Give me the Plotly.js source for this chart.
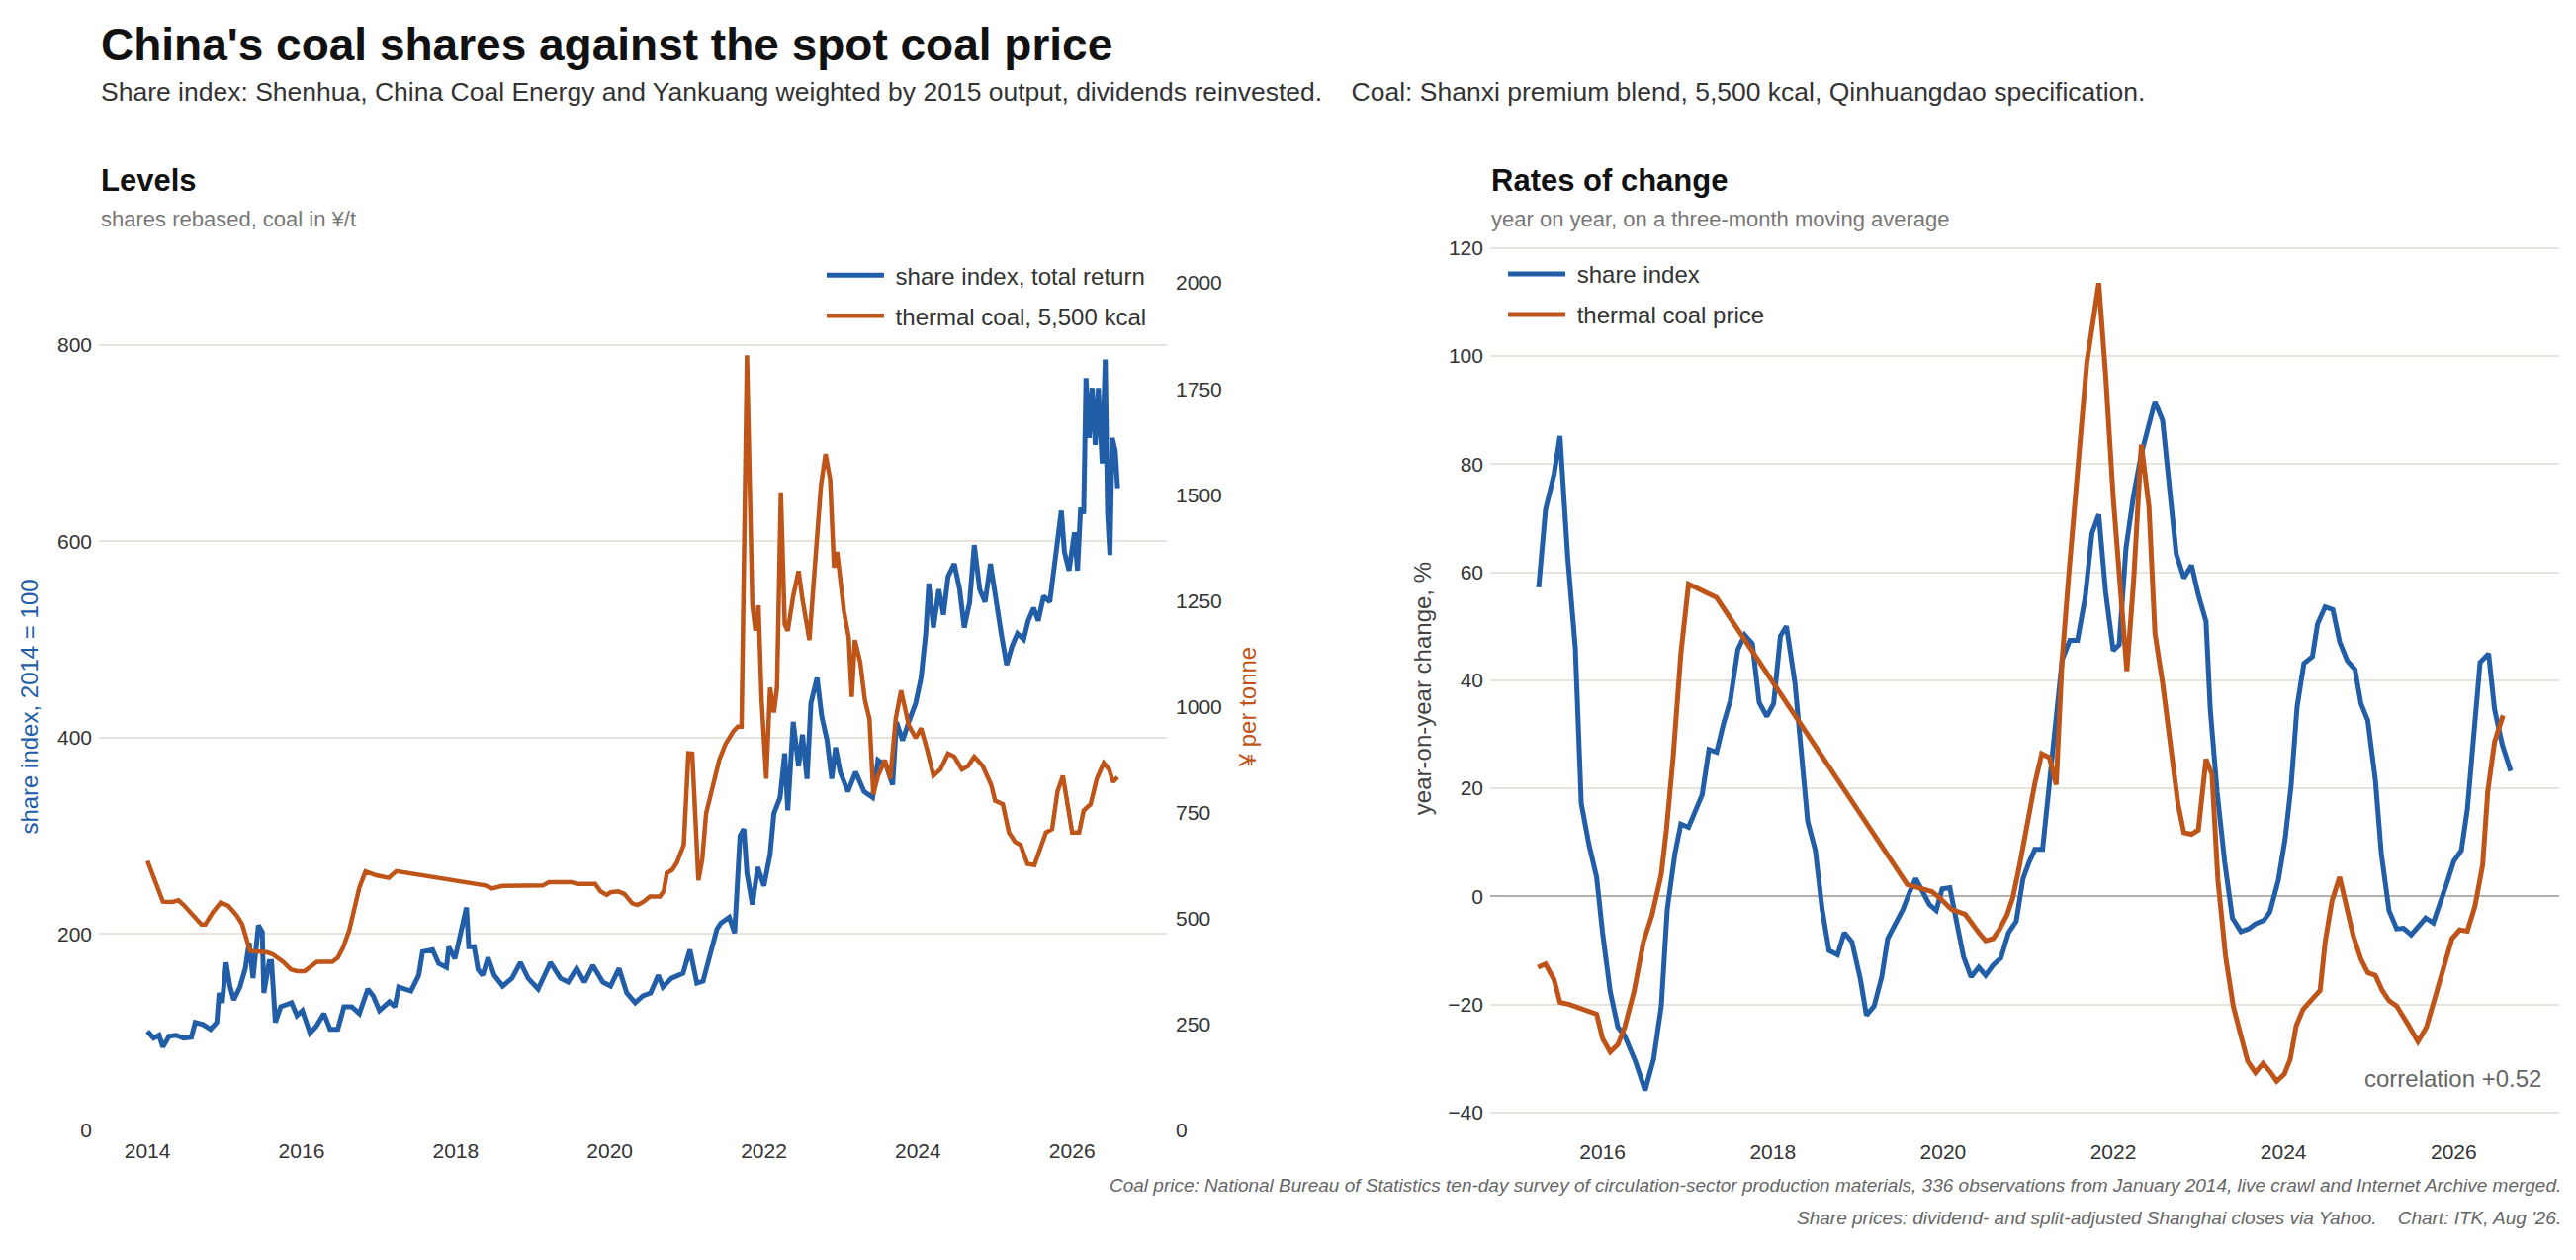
<!DOCTYPE html>
<html>
<head>
<meta charset="utf-8">
<script src="https://cdn.plot.ly/plotly-3.0.1.min.js"></script>
<style>
  html, body { margin: 0; padding: 0; background: #fff; }
  #chart { width: 2605px; height: 1274px; }
</style>
</head>
<body>
<div id="chart"></div>
<script>
// ---- data ----
var coalYears = [2014.0, 2014.2, 2014.32, 2014.40, 2014.47, 2014.70, 2014.75, 2014.85, 2014.95, 2015.05,
  2015.16, 2015.23, 2015.33, 2015.41, 2015.56, 2015.63, 2015.76, 2015.86, 2015.94, 2016.04,
  2016.12, 2016.20, 2016.40, 2016.47, 2016.54, 2016.62, 2016.75, 2016.83, 2016.97, 2017.13,
  2017.23, 2018.39, 2018.47, 2018.60, 2019.13, 2019.21, 2019.50, 2019.58, 2019.81, 2019.88,
  2019.96, 2020.01, 2020.11, 2020.19, 2020.29, 2020.36, 2020.44, 2020.52, 2020.65, 2020.70,
  2020.74, 2020.81, 2020.87, 2020.96, 2021.02, 2021.07, 2021.15, 2021.20, 2021.25, 2021.34,
  2021.42, 2021.50, 2021.60, 2021.66, 2021.71, 2021.78, 2021.85, 2021.89, 2021.93, 2021.97,
  2022.03, 2022.08, 2022.13, 2022.17, 2022.22, 2022.27, 2022.31, 2022.38, 2022.45, 2022.50,
  2022.59, 2022.66, 2022.74, 2022.80, 2022.86, 2022.91, 2022.95, 2023.04, 2023.10, 2023.14,
  2023.18, 2023.25, 2023.31, 2023.37, 2023.42, 2023.48, 2023.57, 2023.64, 2023.71, 2023.78,
  2023.88, 2023.97, 2024.04, 2024.12, 2024.20, 2024.29, 2024.39, 2024.47, 2024.57, 2024.65,
  2024.73, 2024.84, 2024.95, 2025.00, 2025.10, 2025.18, 2025.26, 2025.33, 2025.42, 2025.51,
  2025.58, 2025.66, 2025.74, 2025.81, 2025.88, 2025.93, 2026.00, 2026.09, 2026.15, 2026.24,
  2026.32, 2026.41, 2026.48, 2026.53, 2026.59];
var coalLevel = [636, 540, 539, 543, 532, 486, 486, 515, 538, 530,
  507, 486, 424, 422, 420, 415, 398, 380, 376, 376,
  386, 398, 398, 408, 432, 473, 573, 611, 602, 596,
  612, 578, 571, 577, 578, 586, 586, 582, 582, 564,
  556, 562, 564, 558, 536, 532, 540, 552, 552, 565,
  607, 615, 632, 674, 890, 889, 590, 640, 748, 815,
  874, 911, 941, 953, 953, 1829, 1239, 1179, 1239, 1016,
  830, 1045, 986, 1045, 1506, 1194, 1179, 1261, 1320, 1254,
  1157, 1328, 1521, 1596, 1536, 1328, 1365, 1224, 1164, 1023,
  1157, 1105, 1016, 971, 793, 837, 874, 830, 971, 1038,
  956, 926, 949, 897, 837, 852, 889, 882, 852, 860,
  882, 860, 815, 778, 770, 703, 681, 674, 629, 626,
  659, 703, 711, 800, 837, 778, 703, 703, 755, 770,
  830, 867, 852, 822, 834];

var shareYears = [2014.0, 2014.08, 2014.15, 2014.2, 2014.28, 2014.37, 2014.47, 2014.57, 2014.62, 2014.72,
  2014.82, 2014.90, 2014.93, 2014.97, 2015.02, 2015.07, 2015.12, 2015.2, 2015.27, 2015.32,
  2015.37, 2015.44, 2015.49, 2015.51, 2015.58, 2015.61, 2015.66, 2015.73, 2015.87, 2015.94,
  2016.01, 2016.11, 2016.19, 2016.29, 2016.37, 2016.47, 2016.55, 2016.65, 2016.75, 2016.86,
  2016.93, 2017.01, 2017.14, 2017.21, 2017.26, 2017.42, 2017.52, 2017.57, 2017.70, 2017.78,
  2017.88, 2017.91, 2017.99, 2018.06, 2018.14, 2018.17, 2018.24, 2018.29, 2018.35, 2018.42,
  2018.50, 2018.61, 2018.73, 2018.84, 2018.94, 2019.07, 2019.23, 2019.36, 2019.46, 2019.57,
  2019.67, 2019.78, 2019.91, 2020.01, 2020.12, 2020.22, 2020.33, 2020.43, 2020.53, 2020.63,
  2020.69, 2020.80, 2020.95, 2021.04, 2021.13, 2021.21, 2021.29, 2021.39, 2021.44, 2021.55,
  2021.62, 2021.69, 2021.74, 2021.78, 2021.85, 2021.92, 2022.00, 2022.08, 2022.13, 2022.21,
  2022.27, 2022.31, 2022.38, 2022.45, 2022.50, 2022.56, 2022.61, 2022.69, 2022.75, 2022.82,
  2022.88, 2022.93, 2022.99, 2023.09, 2023.19, 2023.30, 2023.41, 2023.48, 2023.59, 2023.67,
  2023.72, 2023.80, 2023.88, 2023.97, 2024.04, 2024.10, 2024.14, 2024.20, 2024.27, 2024.33,
  2024.39, 2024.47, 2024.54, 2024.60, 2024.67, 2024.73, 2024.80, 2024.87, 2024.94, 2025.02,
  2025.08, 2025.15, 2025.22, 2025.29, 2025.37, 2025.43, 2025.50, 2025.56, 2025.63, 2025.71,
  2025.77, 2025.81, 2025.86, 2025.90, 2025.96, 2026.03, 2026.07, 2026.11, 2026.15, 2026.18,
  2026.22, 2026.26, 2026.30, 2026.34, 2026.39, 2026.43, 2026.46, 2026.49, 2026.52, 2026.56,
  2026.59];
var shareLevel = [101, 94, 97, 85, 96, 97, 94, 95, 110, 108,
  103, 110, 140, 130, 171, 147, 133, 146, 165, 191,
  155, 209, 202, 140, 172, 172, 110, 126, 130, 117,
  122, 99, 106, 119, 103, 103, 126, 126, 119, 144,
  137, 122, 131, 126, 146, 142, 158, 182, 184, 170,
  166, 187, 175, 202, 227, 187, 187, 164, 158, 176,
  158, 147, 155, 171, 155, 144, 171, 155, 151, 165,
  151, 168, 151, 147, 165, 140, 130, 137, 140, 158,
  146, 155, 160, 184, 150, 152, 176, 205, 211, 217,
  201, 300, 307, 262, 230, 268, 249, 281, 323, 339,
  384, 326, 416, 371, 403, 358, 435, 461, 422, 397,
  358, 390, 365, 345, 365, 345, 339, 377, 371, 352,
  416, 397, 416, 435, 461, 506, 557, 512, 551, 525,
  564, 577, 551, 512, 538, 596, 551, 538, 577, 532,
  506, 474, 493, 506, 500, 519, 532, 519, 544, 538,
  577, 602, 631, 589, 570, 609, 570, 634, 628, 766,
  705, 756, 698, 756, 679, 785, 628, 586, 705, 692,
  654];

var yoyShareYears = [2015.25, 2015.33, 2015.43, 2015.50, 2015.59, 2015.68, 2015.75, 2015.84, 2015.93, 2016.0,
  2016.09, 2016.18, 2016.26, 2016.39, 2016.50, 2016.60, 2016.69, 2016.76, 2016.85, 2016.92,
  2017.01, 2017.09, 2017.17, 2017.25, 2017.34, 2017.42, 2017.50, 2017.59, 2017.67, 2017.76,
  2017.84, 2017.93, 2018.01, 2018.09, 2018.16, 2018.26, 2018.34, 2018.41, 2018.50, 2018.58,
  2018.66, 2018.76, 2018.84, 2018.93, 2019.03, 2019.10, 2019.19, 2019.28, 2019.35, 2019.44,
  2019.53, 2019.61, 2019.68, 2019.76, 2019.84, 2019.92, 2019.99, 2020.08, 2020.16, 2020.24,
  2020.33, 2020.42, 2020.50, 2020.59, 2020.68, 2020.77, 2020.86, 2020.94, 2021.01, 2021.08,
  2021.17, 2021.24, 2021.33, 2021.40, 2021.49, 2021.58, 2021.67, 2021.75, 2021.83, 2021.91,
  2022.0, 2022.07, 2022.15, 2022.24, 2022.33, 2022.41, 2022.49, 2022.58, 2022.65, 2022.74,
  2022.83, 2022.92, 2023.0, 2023.09, 2023.14, 2023.22, 2023.31, 2023.40, 2023.50, 2023.59,
  2023.67, 2023.77, 2023.84, 2023.94, 2024.02, 2024.09, 2024.16, 2024.24, 2024.34, 2024.40,
  2024.49, 2024.58, 2024.66, 2024.75, 2024.84, 2024.91, 2024.99, 2025.08, 2025.15, 2025.24,
  2025.33, 2025.41, 2025.50, 2025.58, 2025.67, 2025.76, 2025.84, 2025.92, 2026.0, 2026.09,
  2026.16, 2026.23, 2026.31, 2026.41, 2026.48, 2026.57, 2026.67];
var yoyShare = [57.2, 71.6, 78.1, 85.2, 62.9, 46.0, 17.2, 9.6, 3.6, -6.7,
  -17.6, -24.2, -25.8, -30.7, -35.9, -30.1, -20.3, -2.4, 7.9, 13.4,
  12.8, 16.1, 18.8, 27.2, 26.7, 31.9, 36.2, 45.7, 48.4, 46.8,
  35.9, 33.3, 35.7, 48.2, 50.0, 39.5, 24.8, 13.9, 8.5, -2.4,
  -10.0, -10.8, -6.7, -8.4, -15.4, -22.0, -20.3, -14.9, -7.8, -5.1,
  -2.4, 0.9, 3.3, 0.9, -1.5, -2.6, 1.4, 1.6, -4.6, -11.1,
  -14.9, -13.1, -14.6, -12.7, -11.4, -6.7, -4.6, 3.3, 6.3, 8.7,
  8.7, 19.4, 34.6, 43.8, 47.4, 47.4, 55.3, 67.2, 70.7, 56.4,
  45.5, 46.6, 64.5, 74.3, 81.9, 86.8, 91.6, 88.1, 78.1, 63.4,
  58.9, 61.3, 55.8, 50.9, 34.6, 19.4, 6.3, -4.0, -6.5, -6.0,
  -5.1, -4.4, -2.9, 3.0, 10.7, 20.5, 35.1, 43.1, 44.4, 50.4,
  53.6, 53.1, 47.1, 43.6, 42.0, 35.7, 32.6, 21.5, 7.9, -2.6,
  -6.0, -5.9, -7.1, -5.7, -4.0, -4.9, -1.5, 2.5, 6.5, 8.5,
  16.1, 29.2, 43.3, 44.9, 34.6, 28.1, 23.2];

var yoyCoalYears = [2015.24, 2015.33, 2015.43, 2015.50, 2015.61, 2015.75, 2015.93, 2016.0, 2016.09, 2016.18,
  2016.26, 2016.37, 2016.48, 2016.58, 2016.69, 2016.75, 2016.83, 2016.92, 2017.01, 2017.34,
  2019.58, 2019.87, 2019.97, 2020.10, 2020.26, 2020.42, 2020.50, 2020.59, 2020.66, 2020.75,
  2020.82, 2020.90, 2020.99, 2021.08, 2021.16, 2021.25, 2021.33, 2021.40, 2021.48, 2021.58,
  2021.69, 2021.83, 2021.91, 2022.0, 2022.09, 2022.16, 2022.24, 2022.33, 2022.42, 2022.49,
  2022.58, 2022.67, 2022.76, 2022.83, 2022.92, 2023.0, 2023.09, 2023.16, 2023.23, 2023.32,
  2023.41, 2023.49, 2023.58, 2023.67, 2023.76, 2023.85, 2023.92, 2024.01, 2024.08, 2024.15,
  2024.23, 2024.32, 2024.43, 2024.49, 2024.57, 2024.66, 2024.73, 2024.82, 2024.91, 2024.99,
  2025.08, 2025.16, 2025.24, 2025.33, 2025.46, 2025.58, 2025.68, 2025.80, 2025.91, 2025.98,
  2026.07, 2026.16, 2026.25, 2026.34, 2026.40, 2026.48, 2026.58];
var yoyCoal = [-13.1, -12.5, -15.4, -19.6, -20.0, -20.7, -21.8, -26.3, -28.8, -27.4,
  -24.2, -17.6, -8.4, -3.5, 4.1, 12.3, 25.9, 44.9, 57.8, 55.3,
  2.2, 0.9, -0.4, -2.4, -3.3, -6.7, -8.2, -7.8, -6.2, -3.5,
  -0.2, 5.8, 13.4, 21.0, 26.4, 25.7, 20.7, 44.0, 60.0, 78.7,
  98.8, 113.5, 96.6, 73.8, 54.2, 41.7, 58.5, 83.6, 72.1, 48.7,
  39.5, 28.1, 17.2, 11.8, 11.5, 12.3, 25.4, 22.6, 3.0, -11.1,
  -20.3, -25.2, -30.5, -32.6, -30.9, -32.6, -34.2, -32.9, -30.1, -23.9,
  -20.9, -19.3, -17.4, -8.4, -0.8, 3.6, -1.3, -7.3, -11.6, -14.1,
  -14.6, -17.4, -19.3, -20.3, -23.6, -26.9, -24.2, -17.6, -11.1, -7.8,
  -6.2, -6.4, -1.8, 5.8, 19.4, 28.6, 33.5];

var yearTicks = [2014, 2016, 2018, 2020, 2022, 2024, 2026];
var yearTicksRight = [2016, 2018, 2020, 2022, 2024, 2026];
var levelTicks = [0, 200, 400, 600, 800];
var coalTicks = [0, 250, 500, 750, 1000, 1250, 1500, 1750, 2000];
var correlation = "+0.52";

// ---- styling ----
var FONT = "Liberation Sans, Arial, sans-serif";
var BLUE = "#225ea8";
var ORANGE = "#bf5418";
var GRID = "#e7e4dc";
var TICK = { family: FONT, size: 21, color: "#333" };
var GAP = "\u00a0";

var traces = [
  { x: shareYears, y: shareLevel, xaxis: "x", yaxis: "y", type: "scatter", mode: "lines",
    name: GAP + "share index, total return", legend: "legend", legendgroup: "a",
    line: { color: BLUE, width: 5 } },
  { x: coalYears, y: coalLevel, xaxis: "x", yaxis: "y2", type: "scatter", mode: "lines",
    name: GAP + "thermal coal, 5,500 kcal", legend: "legend", legendgroup: "b",
    line: { color: ORANGE, width: 4.5 } },
  { x: yoyShareYears, y: yoyShare, xaxis: "x2", yaxis: "y3", type: "scatter", mode: "lines",
    name: GAP + "share index", legend: "legend2", legendgroup: "c",
    line: { color: BLUE, width: 5 } },
  { x: yoyCoalYears, y: yoyCoal, xaxis: "x2", yaxis: "y3", type: "scatter", mode: "lines",
    name: GAP + "thermal coal price", legend: "legend2", legendgroup: "d",
    line: { color: ORANGE, width: 5 } }
];

function note(text, x, y, size, opts) {
  var a = { text: text, x: x, y: y, xref: "paper", yref: "paper", showarrow: false,
    xanchor: "left", yanchor: "middle", font: { family: FONT, size: size, color: "#111" } };
  for (var k in opts) {
    if (k === "font") { for (var f in opts.font) a.font[f] = opts.font[f]; }
    else a[k] = opts[k];
  }
  return a;
}

var legendBase = {
  bgcolor: "rgba(0,0,0,0)", font: { family: FONT, size: 24, color: "#333" },
  traceorder: "grouped", tracegroupgap: 7, itemwidth: 58, yanchor: "top"
};

var layout = {
  width: 2605, height: 1274,
  margin: { l: 0, r: 0, t: 0, b: 0 },
  paper_bgcolor: "#fff", plot_bgcolor: "#fff",
  font: { family: FONT, size: 21, color: "#333" },
  showlegend: true,
  xaxis: { domain: [0.0384, 0.4530], range: [2013.37, 2027.23], tickvals: yearTicks,
    ticks: "", showgrid: false, zeroline: false, showline: false, tickfont: TICK,
    ticklabelstandoff: 6, anchor: "y" },
  yaxis: { domain: [0.1028, 0.7755], range: [0, 863], tickvals: levelTicks,
    ticks: "", gridcolor: GRID, gridwidth: 2, zeroline: false, showline: false,
    tickfont: TICK, ticklabelstandoff: 6, anchor: "x",
    title: { text: "share index, 2014 = 100", font: { family: FONT, size: 24, color: BLUE }, standoff: 12 } },
  yaxis2: { overlaying: "y", side: "right", anchor: "x", range: [0, 2000], tickvals: coalTicks,
    ticks: "", showgrid: false, zeroline: false, showline: false, tickfont: TICK,
    ticklabelstandoff: 8,
    title: { text: "¥ per tonne", font: { family: FONT, size: 24, color: ORANGE }, standoff: 18 } },
  xaxis2: { domain: [0.5785, 0.9935], range: [2014.68, 2027.24], tickvals: yearTicksRight,
    ticks: "", showgrid: false, zeroline: false, showline: false, tickfont: TICK,
    ticklabelstandoff: 6, anchor: "y3" },
  yaxis3: { domain: [0.1020, 0.8053], range: [-43.5, 120.5], dtick: 20, anchor: "x2",
    ticks: "", gridcolor: GRID, gridwidth: 2, zeroline: true, zerolinecolor: "#b4b1a9",
    zerolinewidth: 2, showline: false, tickfont: TICK, ticklabelstandoff: 6,
    title: { text: "year-on-year change, %", font: { family: FONT, size: 24, color: "#444" }, standoff: 9 } },
  legend: Object.assign({}, legendBase, { x: 0.4472, xanchor: "right", y: 0.799 }),
  legend2: Object.assign({}, legendBase, { x: 0.5835, xanchor: "left", y: 0.800 }),
  annotations: [
    note("<b>China's coal shares against the spot coal price</b>", 0.0384, 0.9647, 46, {}),
    note("Share index: Shenhua, China Coal Energy and Yankuang weighted by 2015 output, dividends reinvested.\u00a0\u00a0\u00a0 Coal: Shanxi premium blend, 5,500 kcal, Qinhuangdao specification.",
      0.0384, 0.927, 26.5, { font: { color: "#333" } }),
    note("<b>Levels</b>", 0.0384, 0.8564, 31, {}),
    note("shares rebased, coal in ¥/t", 0.0384, 0.8265, 22, { font: { color: "#777" } }),
    note("<b>Rates of change</b>", 0.5781, 0.8564, 31, {}),
    note("year on year, on a three-month moving average", 0.5781, 0.8265, 22, { font: { color: "#777" } }),
    note("correlation " + correlation, 0.9875, 0.1444, 24, { xanchor: "right", font: { color: "#666" } }),
    note("<i>Coal price: National Bureau of Statistics ten-day survey of circulation-sector production materials, 336 observations from January 2014, live crawl and Internet Archive merged.</i>",
      0.995, 0.0589, 19, { xanchor: "right", font: { color: "#666" } }),
    note("<i>Share prices: dividend- and split-adjusted Shanghai closes via Yahoo.\u00a0\u00a0\u00a0 Chart: ITK, Aug '26.</i>",
      0.995, 0.033, 19, { xanchor: "right", font: { color: "#666" } })
  ]
};

Plotly.newPlot("chart", traces, layout, { staticPlot: true, displayModeBar: false });
</script>
</body>
</html>
